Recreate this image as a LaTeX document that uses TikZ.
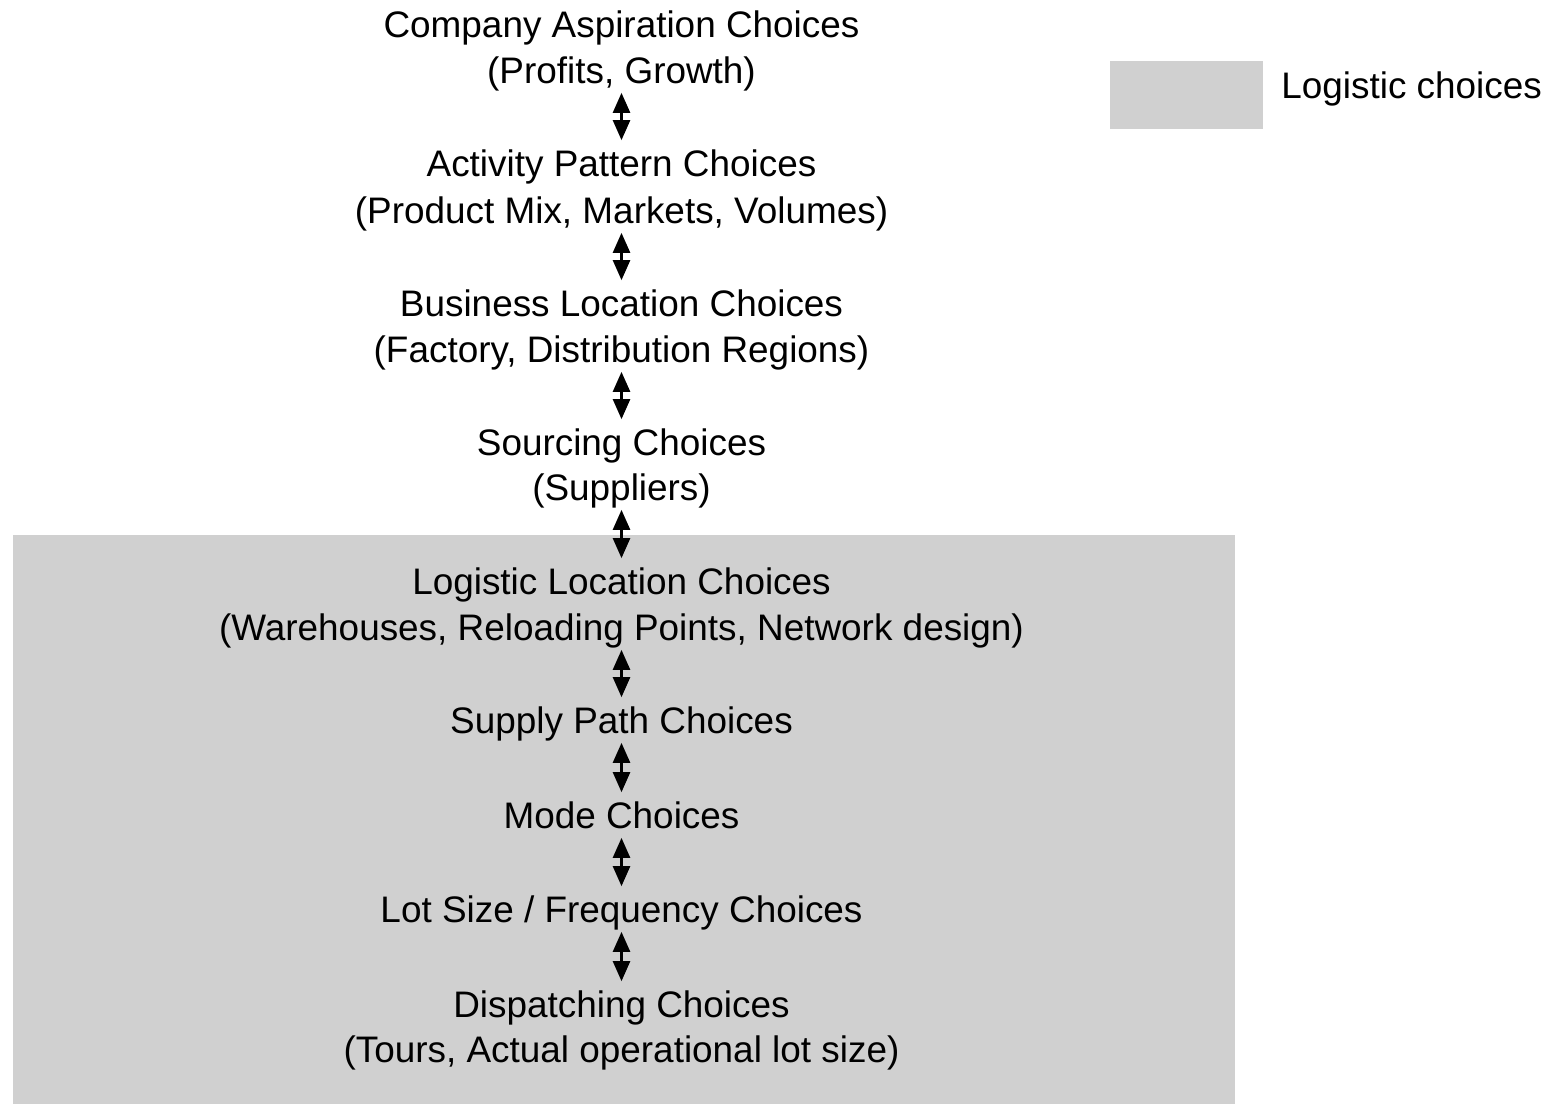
\documentclass[tikz,border=0pt]{standalone}
\usepackage{fontspec}
\setmainfont{Liberation Sans}
\usepackage{xcolor}
\usepackage{tikz}
\usetikzlibrary{arrows.meta}
\usetikzlibrary{positioning}
\definecolor{logigray}{HTML}{D0D0D0}
\begin{document}
\begin{tikzpicture}[
	choice/.style={font=\fontsize{21}{25}\selectfont, text height=0.52cm, text depth=0pt, inner xsep=0pt, inner ysep=0.19cm, anchor=base},
	link/.style={{Triangle[length=0.4cm,width=0.34cm]}-{Triangle[length=0.4cm,width=0.34cm]}, line width=0.05cm}]
	\useasboundingbox (0,0) rectangle (31.1,-22.08);
	% logistic part
	\fill[logigray] (0.26,-10.7) rectangle (24.7,-22.08);
	\fill[logigray] (22.2,-1.22) rectangle (25.26,-2.58);
	\node[choice,anchor=base west] (legtext) at (25.62,-1.96) {Logistic choices};
	% choices
	\node[choice] (aspir) at (12.43,-0.76) {Company Aspiration Choices};
	\node[choice] (aspirsub) at (12.43,-1.66) {(Profits, Growth)};
	\node[choice] (activ) at (12.43,-3.52) {Activity Pattern Choices};
	\node[choice] (activsub) at (12.43,-4.46) {(Product Mix, Markets, Volumes)};
	\node[choice] (busloc) at (12.43,-6.32) {Business Location Choices};
	\node[choice] (buslocsub) at (12.43,-7.24) {(Factory, Distribution Regions)};
	\node[choice] (sourc) at (12.43,-9.1) {Sourcing Choices};
	\node[choice] (sourcsub) at (12.43,-10.0) {(Suppliers)};
	\node[choice] (logloc) at (12.43,-11.88) {Logistic Location Choices};
	\node[choice] (loglocsub) at (12.43,-12.8) {(Warehouses, Reloading Points, Network design)};
	\node[choice] (supply) at (12.43,-14.66) {Supply Path Choices};
	\node[choice] (mode) at (12.43,-16.56) {Mode Choices};
	\node[choice] (lotsize) at (12.43,-18.44) {Lot Size / Frequency Choices};
	\node[choice] (dispatch) at (12.43,-20.34) {Dispatching Choices};
	\node[choice] (dispatchsub) at (12.43,-21.24) {(Tours, Actual operational lot size)};
	% arrows
	\draw[link] (aspirsub.south) -- (activ.north);
	\draw[link] (activsub.south) -- (busloc.north);
	\draw[link] (buslocsub.south) -- (sourc.north);
	\draw[link] (sourcsub.south) -- (logloc.north);
	\draw[link] (loglocsub.south) -- (supply.north);
	\draw[link] (supply.south) -- (mode.north);
	\draw[link] (mode.south) -- (lotsize.north);
	\draw[link] (lotsize.south) -- (dispatch.north);
\end{tikzpicture}
\end{document}
